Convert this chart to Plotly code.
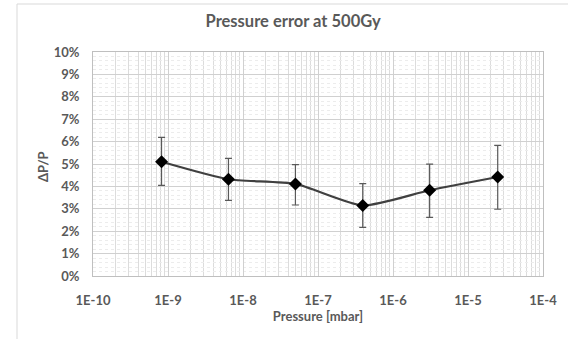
import plotly.graph_objects as go

# Data
pressure_mbar = [8.2e-10, 6.4e-9, 5.0e-8, 3.95e-7, 3.08e-6, 2.49e-5]
rel_error = [0.0510, 0.0432, 0.0411, 0.0315, 0.0383, 0.0442]
err_plus = [0.0109, 0.0093, 0.0086, 0.0097, 0.0116, 0.0141]
err_minus = [0.0105, 0.0094, 0.0094, 0.0098, 0.0121, 0.0144]

x_tickvals = [1e-10, 1e-9, 1e-8, 1e-7, 1e-6, 1e-5, 1e-4]
x_ticktext = ["1E-10", "1E-9", "1E-8", "1E-7", "1E-6", "1E-5", "1E-4"]
y_tickvals = [i / 100 for i in range(11)]
y_ticktext = [f"{i}%" for i in range(11)]

FONT = "Lato"
TXT = "#595959"

fig = go.Figure()
fig.add_trace(go.Scatter(
    x=pressure_mbar, y=rel_error,
    mode="lines+markers",
    line=dict(color="#404040", width=2.2, shape="spline", smoothing=0.6),
    marker=dict(symbol="diamond", size=10, color="black"),
    error_y=dict(type="data", symmetric=False, array=err_plus, arrayminus=err_minus,
                 color="#595959", thickness=1.2, width=3.5),
    showlegend=False,
))

W, H = 568, 339
L, R, T, B = 93, 25, 52, 63
PW, PH = W - L - R, H - T - B

def px_x(p):
    return (p - L) / PW

def px_y(p):
    return (H - B - p) / PH

fig.update_layout(
    width=W, height=H,
    margin=dict(l=L, r=R, t=T, b=B, autoexpand=False),
    paper_bgcolor="white", plot_bgcolor="white",
    font=dict(family=FONT, color=TXT),
    title=dict(text="<b>Pressure error at 500Gy</b>", x=0.516, xref="container", xanchor="center",
               y=1 - 21 / H, yref="container", yanchor="middle",
               font=dict(family=FONT, size=16.5, color=TXT)),
    shapes=[
        dict(type="line", xref="paper", yref="paper", x0=px_x(17), x1=px_x(W), y0=px_y(4), y1=px_y(4),
             line=dict(color="#d9d9d9", width=1)),
        dict(type="line", xref="paper", yref="paper", x0=px_x(17), x1=px_x(17), y0=px_y(4), y1=px_y(H),
             line=dict(color="#d9d9d9", width=1)),
    ],
    annotations=[
        dict(text="<b>ΔP/P</b>", textangle=-90, xref="paper", yref="paper",
             x=px_x(43), y=px_y(167), xanchor="center", yanchor="middle", showarrow=False,
             font=dict(family=FONT, size=13, color=TXT)),
    ],
)
fig.update_xaxes(
    type="log", range=[-10, -4], automargin=False,
    tickvals=x_tickvals, ticktext=[f"<b>{t}</b>" for t in x_ticktext],
    tickfont=dict(family=FONT, size=13, color=TXT),
    ticks="outside", ticklen=12, tickcolor="rgba(0,0,0,0)",
    title=dict(text="<b>Pressure [mbar]</b>", font=dict(family=FONT, size=13, color=TXT), standoff=5),
    showgrid=True, gridcolor="#d0d0d0", gridwidth=1.2,
    minor=dict(dtick="D1", showgrid=True, gridcolor="#dcdcdc", gridwidth=1, ticks=""),
    showline=True, linecolor="#bfbfbf", mirror=True,
    zeroline=False,
)
fig.update_yaxes(
    range=[0, 0.10], automargin=False,
    tickvals=y_tickvals, ticktext=[f"<b>{t}</b>" for t in y_ticktext],
    tickfont=dict(family=FONT, size=13, color=TXT),
    ticks="outside", ticklen=10, tickcolor="rgba(0,0,0,0)",
    showgrid=True, gridcolor="#d0d0d0", gridwidth=1.2,
    minor=dict(dtick=0.002, showgrid=True, gridcolor="#ececec", gridwidth=1, griddash="dot", ticks=""),
    showline=True, linecolor="#bfbfbf", mirror=True,
    zeroline=False,
)

fig.write_html("out.html", config={"displayModeBar": False},
               post_script="document.body.style.margin='0';document.body.style.overflow='hidden';")
